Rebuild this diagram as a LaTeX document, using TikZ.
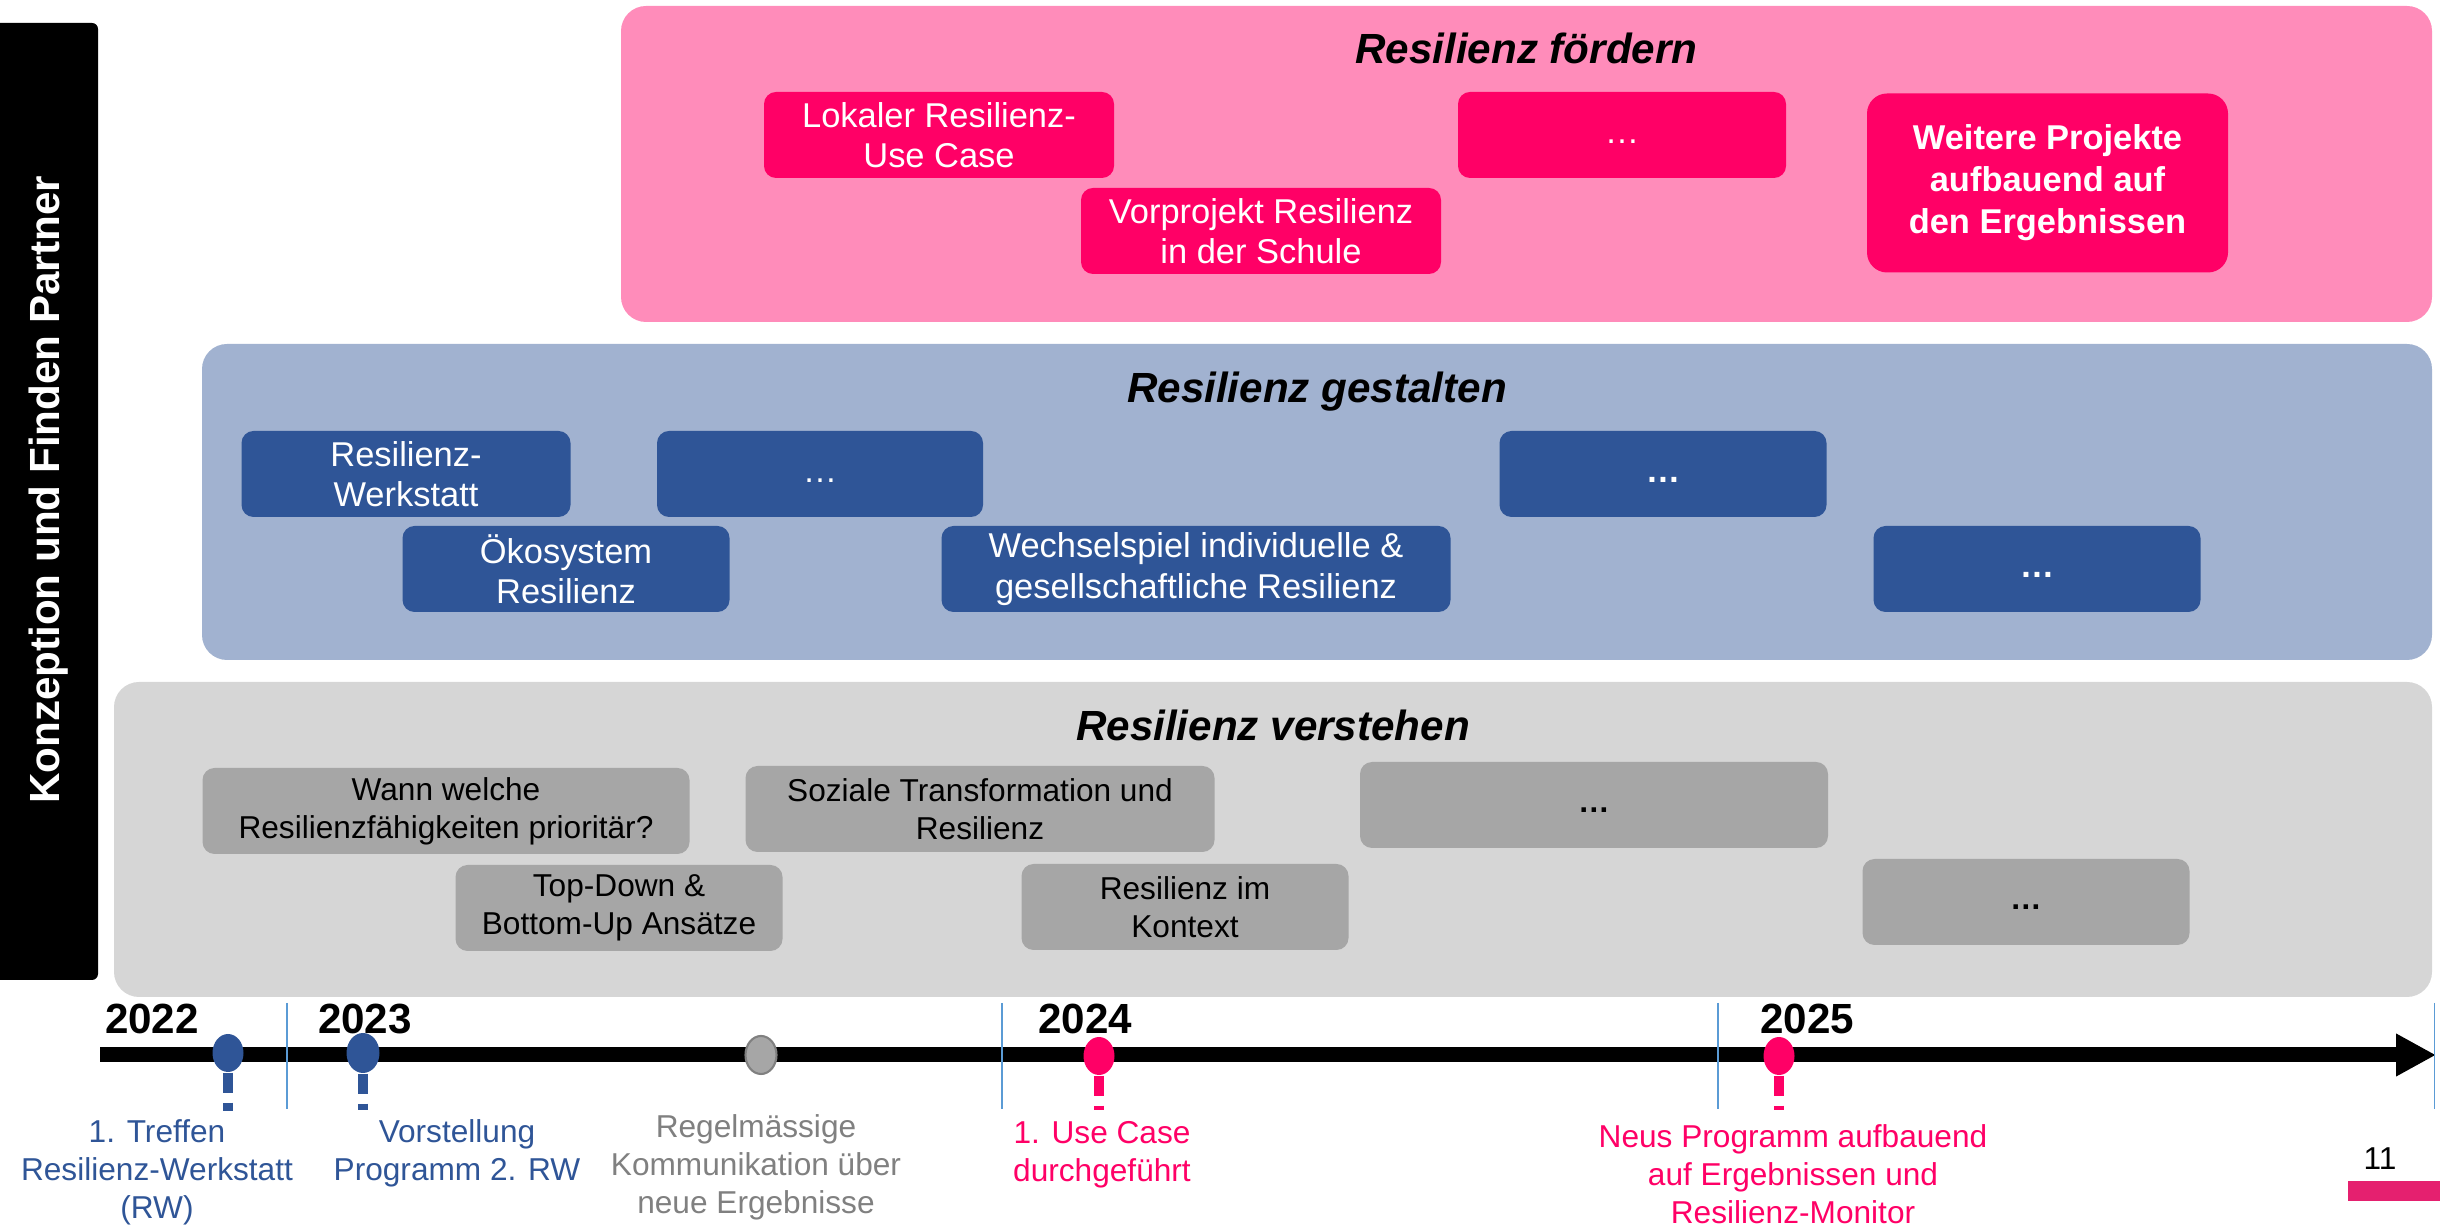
\documentclass[tikz,border=0pt]{standalone}
\usepackage{fontspec}
\setmainfont{Liberation Sans}
\usetikzlibrary{positioning, arrows.meta, shapes.geometric}

\definecolor{pinklight}{HTML}{FF8CBA}
\definecolor{pinkdark}{HTML}{FF0066}
\definecolor{bluelight}{HTML}{A1B2D0}
\definecolor{bluedark}{HTML}{2F5597}
\definecolor{graylight}{HTML}{D6D6D6}
\definecolor{graydark}{HTML}{A6A6A6}
\definecolor{graytext}{HTML}{808080}
\definecolor{sepblue}{HTML}{5B9BD5}
\definecolor{pagepink}{HTML}{E5206F}

\begin{document}
\begin{tikzpicture}[x=0.1mm, y=-0.1mm,
        area/.style={rounded corners=2.5mm, inner sep=0pt},
        titel/.style={font=\fontsize{12}{14}\selectfont\bfseries\itshape, inner sep=0pt},
        box/.style={rounded corners=1.2mm, minimum height=8.6mm, minimum width=32.7mm, align=center, inner sep=0pt, font=\fontsize{9.8}{11.5}\selectfont},
        pbox/.style={box, fill=pinkdark, text=white},
        bbox/.style={box, fill=bluedark, text=white},
        gbox/.style={box, fill=graydark, text=black, font=\fontsize{9}{10.8}\selectfont},
        year/.style={font=\fontsize{12}{14}\selectfont\bfseries, inner sep=0pt},
        marker/.style={ellipse, minimum width=3.1mm, minimum height=3.8mm, inner sep=0pt},
        stem/.style={line width=1mm, dash pattern=on 2mm off 1mm},
        event/.style={align=center, font=\fontsize{9}{10.8}\selectfont, inner sep=0pt}]
    \useasboundingbox (0,0) rectangle (2440,1227);

    % Balken links
    \fill[rounded corners=0.6mm] (-20,23) rectangle (98,980);
    \node[rotate=90, text=white, font=\fontsize{12}{14}\selectfont\bfseries] (konzeption) at (49,490) {Konzeption und Finden Partner};

    % Ebenen
    \node[area, fill=pinklight, minimum width=181.1mm, minimum height=31.6mm] (foerdern) at (1526.5,164) {};
    \node[area, fill=bluelight, minimum width=223mm, minimum height=31.6mm] (gestalten) at (1317,502) {};
    \node[area, fill=graylight, minimum width=231.8mm, minimum height=31.5mm] (verstehen) at (1273,839.5) {};
    \node[titel, below=2.7mm of foerdern.north] (tfoerdern) {Resilienz fördern};
    \node[titel, below=2.8mm of gestalten.north] (tgestalten) {Resilienz gestalten};
    \node[titel, below=2.8mm of verstehen.north] (tverstehen) {Resilienz verstehen};

    % Resilienz foerdern
    \node[pbox, minimum width=35mm] (lokal) at (939,135) {Lokaler Resilienz-\\Use Case};
    \node[pbox, minimum width=36mm] (vorprojekt) at (1261,231) {Vorprojekt Resilienz\\in der Schule};
    \node[pbox, minimum width=32.8mm] (pdots) at (1622,135) {\strut…};
    \node[pbox, minimum width=36.1mm, minimum height=17.9mm, rounded corners=2mm, font=\fontsize{9.8}{12}\selectfont\bfseries] (weitere) at (2047.5,183) {Weitere Projekte\\aufbauend auf\\den Ergebnissen};

    % Resilienz gestalten
    \node[bbox, minimum width=32.9mm] (werkstatt) at (406,474) {Resilienz-\\Werkstatt};
    \node[bbox, minimum width=32.6mm] (bdotsa) at (820,474) {\strut…};
    \node[bbox] (oeko) at (566,569) {Ökosystem\\Resilienz};
    \node[bbox, minimum width=50.9mm] (wechsel) at (1196,569) {Wechselspiel individuelle \&\\gesellschaftliche Resilienz};
    \node[bbox] (bdotsb) at (1663,474) {\strut\textbf{…}};
    \node[bbox] (bdotsc) at (2037,569) {\strut\textbf{…}};

    % Resilienz verstehen
    \node[gbox, minimum width=48.7mm] (wann) at (446,811) {Wann welche\\Resilienzfähigkeiten prioritär?};
    \node[gbox] (topdown) at (619,908) {Top-Down \&\\Bottom-Up Ansätze};
    \node[gbox, minimum width=46.9mm] (sozial) at (980,809) {Soziale Transformation und\\Resilienz};
    \node[gbox] (kontext) at (1185,907) {Resilienz im\\Kontext};
    \node[gbox, minimum width=46.8mm] (gdotsa) at (1594,805) {\strut\textbf{…}};
    \node[gbox] (gdotsb) at (2026,902) {\strut\textbf{…}};

    % Zeitstrahl
    \coordinate (tstart) at (100,1055);
    \coordinate (tend) at (2436,1055);
    \draw[line width=1.5mm, -{Triangle[length=4mm, width=4mm]}] (tstart) -- (tend);
    \foreach \x in {287,1002,1718,2434}
        \draw[sepblue, line width=0.3pt] (\x,1003) -- (\x,1109);
    \foreach \j/\x in {2022/152, 2023/365, 2024/1085, 2025/1807}
        \node[year] (y\j) at (\x,1019) {\j};

    \node[marker, fill=bluedark] (ma) at (228,1053) {};
    \draw[stem, bluedark] (ma.south) -- ++(0,38);
    \node[marker, fill=bluedark, minimum width=3.3mm, minimum height=4mm] (mb) at (363,1053) {};
    \draw[stem, bluedark] (mb.south) -- ++(0,36);
    \node[marker, fill=graydark, draw=gray, line width=0.6pt] (mc) at (761,1055) {};
    \node[marker, fill=pinkdark] (md) at (1099,1056) {};
    \draw[stem, pinkdark] (md.south) -- ++(0,34);
    \node[marker, fill=pinkdark] (me) at (1779,1056) {};
    \draw[stem, pinkdark] (me.south) -- ++(0,34);

    \node[event, text=bluedark] (treffen) at (157,1172) {1. Treffen\\Resilienz-Werkstatt\\(RW)};
    \node[event, text=bluedark] (vorstellung) at (457,1153) {Vorstellung\\Programm 2. RW};
    \node[event, text=graytext] (regel) at (756,1167) {Regelmässige\\Kommunikation über\\neue Ergebnisse};
    \node[event, text=pinkdark] (usecase) at (1102,1155) {1. Use Case\\durchgeführt};
    \node[event, text=pinkdark] (neus) at (1793,1174) {Neus Programm aufbauend\\auf Ergebnissen und\\Resilienz-Monitor};

    % Seitenzahl
    \node[font=\fontsize{9}{11}\selectfont, inner sep=0pt] (seite) at (2380,1159) {11};
    \fill[pagepink] (2348,1181) rectangle (2440,1201);
\end{tikzpicture}
\end{document}
